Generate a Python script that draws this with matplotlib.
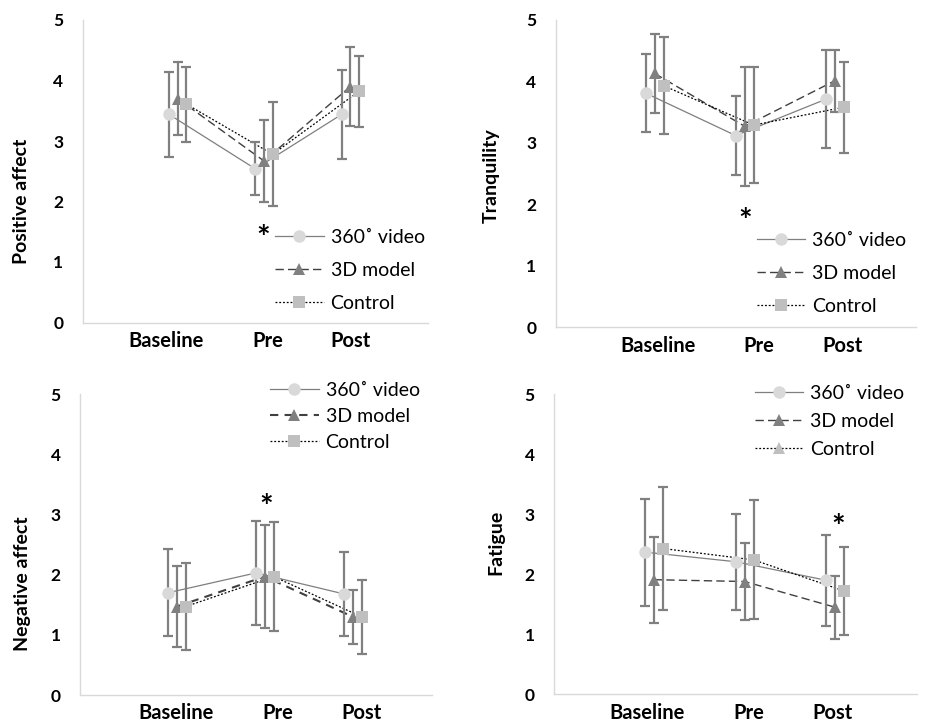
import matplotlib
matplotlib.use("Agg")
import matplotlib.pyplot as plt
from matplotlib.lines import Line2D

plt.rcParams['font.family'] = ['Lato', 'DejaVu Sans']

# categories and groups
phases = ['Baseline', 'Pre', 'Post']
groups = ['360˚ video', '3D model', 'Control']

# means (Baseline, Pre, Post) per group, and SDs
pos_video = [3.44, 2.54, 3.44]
pos_video_sd = [0.70, 0.44, 0.74]
pos_model = [3.70, 2.67, 3.90]
pos_model_sd = [0.60, 0.68, 0.65]
pos_control = [3.61, 2.78, 3.82]
pos_control_sd = [0.62, 0.86, 0.59]

tra_video = [3.81, 3.12, 3.71]
tra_video_sd = [0.64, 0.64, 0.80]
tra_model = [4.13, 3.27, 4.01]
tra_model_sd = [0.65, 0.97, 0.51]
tra_control = [3.93, 3.29, 3.58]
tra_control_sd = [0.79, 0.95, 0.74]

neg_video = [1.70, 2.03, 1.68]
neg_video_sd = [0.72, 0.86, 0.70]
neg_model = [1.47, 1.97, 1.30]
neg_model_sd = [0.68, 0.86, 0.45]
neg_control = [1.47, 1.97, 1.30]
neg_control_sd = [0.72, 0.91, 0.61]

fat_video = [2.37, 2.21, 1.90]
fat_video_sd = [0.89, 0.80, 0.76]
fat_model = [1.91, 1.88, 1.45]
fat_model_sd = [0.72, 0.64, 0.53]
fat_control = [2.43, 2.24, 1.72]
fat_control_sd = [1.03, 0.99, 0.73]

panels = [
    dict(ylabel='Positive affect', means=[pos_video, pos_model, pos_control],
         sds=[pos_video_sd, pos_model_sd, pos_control_sd], star=(2.09, 1.38)),
    dict(ylabel='Tranquility', means=[tra_video, tra_model, tra_control],
         sds=[tra_video_sd, tra_model_sd, tra_control_sd], star=(2.10, 1.70)),
    dict(ylabel='Negative affect', means=[neg_video, neg_model, neg_control],
         sds=[neg_video_sd, neg_model_sd, neg_control_sd], star=(2.12, 3.10)),
    dict(ylabel='Fatigue', means=[fat_video, fat_model, fat_control],
         sds=[fat_video_sd, fat_model_sd, fat_control_sd], star=(3.13, 2.76)),
]

# layout in pixels: left, right, y of 0, y of 5 (from top)
W, H = 927, 722
boxes = [(82.7, 428, 322.5, 20), (555.7, 915.7, 327.3, 20),
         (80, 432, 695, 394.3), (554, 917, 694.3, 394.3)]
tick_pos = [[0.96, 2.14, 3.10], [1.14, 2.26, 3.19],
            [1.09, 2.25, 3.20], [1.03, 2.15, 3.07]]
ylabel_xy = [(-0.177, 0.40), (-0.18, 0.495), (-0.163, 0.371), (-0.16, 0.505)]
legend_xy = [(275, 229), (756.7, 232), (270, 382), (754.7, 385)]
legend_gap = [0.83, 0.81, 0.46, 0.57]

offsets = [0.0, 0.1, 0.2]
markers = ['o', '^', 's']
mcolors = ['#d9d9d9', '#808080', '#bfbfbf']
lcolors = ['#7f7f7f', '#404040', '#000000']
lstyles = ['-', (0, (6, 3)), (0, (1.5, 1.5))]
lwidths = [0.9, 1.0, 0.9]

fig = plt.figure(figsize=(W / 100, H / 100), dpi=100)

for i, p in enumerate(panels):
    l, r, y0, y5 = boxes[i]
    ax = fig.add_axes([l / W, (H - y0) / H, (r - l) / W, (y0 - y5) / H])
    dash = lstyles[1] if i != 2 else (0, (4, 3))
    styles = [lstyles[0], dash, lstyles[2]]
    widths = [lwidths[0], lwidths[1] if i != 2 else 1.5, lwidths[2]]
    for g in range(3):
        xs = [k + 1 + offsets[g] for k in range(3)]
        ax.plot(xs, p['means'][g], linestyle=styles[g], color=lcolors[g],
                linewidth=widths[g], zorder=2)
        ax.errorbar(xs, p['means'][g], yerr=p['sds'][g], fmt='none',
                    ecolor='#808080', elinewidth=1.6, capsize=3.6,
                    capthick=1.6, zorder=3)
        ax.plot(xs, p['means'][g], linestyle='none', marker=markers[g],
                markersize=9, color=mcolors[g], markeredgewidth=0, zorder=4)

    ax.set_xlim(0, 4)
    ax.set_ylim(0, 5)
    ax.set_yticks(range(6))
    ax.set_xticks(tick_pos[i], phases)
    for lab in ax.get_yticklabels():
        lab.set_fontweight('bold')
        lab.set_fontsize(12.5)
    for lab in ax.get_xticklabels():
        lab.set_fontweight('bold')
        lab.set_fontsize(14.5)
    ax.tick_params(axis='both', length=0)
    ax.tick_params(axis='y', pad=14)
    ax.tick_params(axis='x', pad=6)
    for s in ['top', 'right']:
        ax.spines[s].set_visible(False)
    for s in ['left', 'bottom']:
        ax.spines[s].set_color('#d9d9d9')
        ax.spines[s].set_linewidth(1.0)

    ax.set_ylabel(p['ylabel'], fontsize=14, fontweight='bold', va='center')
    ax.yaxis.set_label_coords(*ylabel_xy[i])

    ax.text(p['star'][0], p['star'][1], '*', fontsize=23, fontweight='bold',
            ha='center', va='center')

    handles = []
    for g in range(3):
        m = markers[g]
        mc = mcolors[g]
        if i == 3 and g == 2:
            m = '^'
        handles.append(Line2D([], [], linestyle=styles[g], color=lcolors[g],
                              linewidth=widths[g], marker=m, markersize=9,
                              markerfacecolor=mc, markeredgewidth=0))
    lx, ly = legend_xy[i]
    ax.legend(handles, groups, loc='upper left', frameon=False,
              bbox_to_anchor=(lx / W, 1 - ly / H),
              bbox_transform=fig.transFigure, borderpad=0,
              borderaxespad=0, handlelength=2.5, handletextpad=0.36,
              labelspacing=legend_gap[i], fontsize=14)

fig.savefig('out.png', dpi=100)
